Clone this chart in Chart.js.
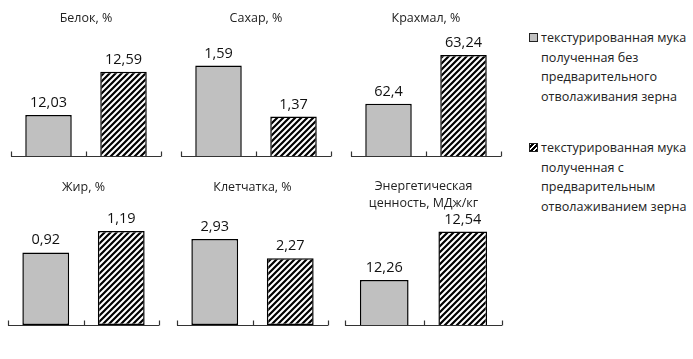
<!DOCTYPE html>
<html>
<head>
<meta charset="utf-8">
<script src="https://cdn.jsdelivr.net/npm/chart.js@4/dist/chart.umd.min.js"></script>
<style>
html,body{margin:0;padding:0;background:#fff;}
#wrap{position:relative;width:693px;height:359px;overflow:hidden;background:#fff;font-family:"Open Sans",sans-serif;}
canvas.panel{position:absolute;}
.legtext{position:absolute;left:541px;width:152px;font-size:12.6px;line-height:19.5px;color:#222;white-space:nowrap;}
.sw{position:absolute;left:529px;width:7px;height:7px;border:1px solid #222;}
#sw1{top:33px;background:#c0c0c0;}
#sw2{top:143px;background:repeating-linear-gradient(-45deg,#000 0 2px,#fff 2px 3.5px);}
</style>
</head>
<body>
<div id="wrap">
  <div class="sw" id="sw1"></div>
  <div class="legtext" id="leg1" style="top:28px"></div>
  <div class="sw" id="sw2"></div>
  <div class="legtext" id="leg2" style="top:138px"></div>
</div>
<script>
// ---- data ----
const categories = ["Белок, %", "Сахар, %", "Крахмал, %", "Жир, %", "Клетчатка, %", "Энергетическая ценность, МДж/кг"];
const titleLines = [["Белок, %"], ["Сахар, %"], ["Крахмал, %"], ["Жир, %"], ["Клетчатка, %"], ["Энергетическая", "ценность, МДж/кг"]];
const seriesNames = [
  ["текстурированная мука", "полученная без", "предварительного", "отволаживания зерна"],
  ["текстурированная мука", "полученная с", "предварительным", "отволаживанием зерна"]
];
const seriesWithout = [12.03, 1.59, 62.4, 0.92, 2.93, 12.26];
const seriesWith = [12.59, 1.37, 63.24, 1.19, 2.27, 12.54];
const axisMin = [11.5, 1.2, 61.5, 0, 0, 12];
const axisMax = [13, 1.7, 63.5, 1.47, 3.95, 12.67];

// ---- layout (chart areas: left, top, right, bottom) ----
const areas = [[11,40,161,156],[181,40,331,156],[351,40,501,156],[8,209,159,325],[177,209,328,325],[345,209,502,325]];
const PAD = {left: 8, right: 8, top: 40, bottom: 14};

document.getElementById('leg1').innerHTML = seriesNames[0].join('<br>');
document.getElementById('leg2').innerHTML = seriesNames[1].join('<br>');

function makeHatch(ctx){
  const c = document.createElement('canvas');
  c.width = 6; c.height = 6;
  const g = c.getContext('2d');
  g.fillStyle = '#fff'; g.fillRect(0,0,6,6);
  g.strokeStyle = '#000'; g.lineWidth = 2.2;
  g.beginPath();
  g.moveTo(-1,7); g.lineTo(7,-1);
  g.moveTo(-4,4); g.lineTo(4,-4);
  g.moveTo(2,10); g.lineTo(10,2);
  g.stroke();
  return ctx.createPattern(c, 'repeat');
}

const fmt = v => String(v).replace('.', ',');

const panelPlugin = {
  id: 'panelDecor',
  afterDatasetsDraw(chart){
    const ctx = chart.ctx;
    const a = chart.chartArea;
    const opts = chart.options.plugins.panelDecor;
    ctx.save();
    ctx.strokeStyle = '#333';
    ctx.lineWidth = 1.2;
    const yb = Math.round(a.bottom) + 0.5;
    ctx.beginPath();
    ctx.moveTo(a.left, yb); ctx.lineTo(a.right, yb);
    const xs = [a.left, (a.left + a.right) / 2, a.right];
    xs.forEach(x => { const xx = Math.round(x) + 0.5; ctx.moveTo(xx, yb); ctx.lineTo(xx, yb - 5); });
    ctx.stroke();
    ctx.fillStyle = '#111';
    ctx.font = '14.5px "Open Sans", sans-serif';
    ctx.textAlign = 'center';
    ctx.textBaseline = 'alphabetic';
    const meta = chart.getDatasetMeta(0);
    meta.data.forEach((bar, i) => {
      ctx.fillText(fmt(chart.data.datasets[0].data[i]), bar.x, bar.y - 8);
    });
    ctx.fillStyle = '#222';
    ctx.font = '12.5px "Open Sans", sans-serif';
    ctx.textBaseline = 'middle';
    const cx = (a.left + a.right) / 2;
    const lines = opts.lines;
    if (lines.length === 1) {
      ctx.fillText(lines[0], cx, a.top - 22);
    } else {
      ctx.fillText(lines[0], cx, a.top - 23);
      ctx.fillText(lines[1], cx, a.top - 6);
    }
    ctx.restore();
  }
};

const wrap = document.getElementById('wrap');
categories.forEach((cat, i) => {
  const ar = areas[i];
  const cv = document.createElement('canvas');
  cv.className = 'panel';
  const w = ar[2] - ar[0] + PAD.left + PAD.right;
  const h = ar[3] - ar[1] + PAD.top + PAD.bottom;
  cv.width = w; cv.height = h;
  cv.style.width = w + 'px'; cv.style.height = h + 'px';
  cv.style.left = (ar[0] - PAD.left) + 'px';
  cv.style.top = (ar[1] - PAD.top) + 'px';
  wrap.appendChild(cv);
  const ctx = cv.getContext('2d');
  new Chart(ctx, {
    type: 'bar',
    data: {
      labels: ['без отволаживания', 'с отволаживанием'],
      datasets: [{
        label: cat,
        data: [seriesWithout[i], seriesWith[i]],
        backgroundColor: ['#c0c0c0', makeHatch(ctx)],
        borderColor: '#000',
        borderWidth: 1.5,
        borderSkipped: false,
        barPercentage: 0.62,
        categoryPercentage: 1.0
      }]
    },
    options: {
      responsive: false,
      animation: false,
      devicePixelRatio: 1,
      layout: {padding: PAD},
      scales: {
        x: {display: false},
        y: {display: false, min: axisMin[i], max: axisMax[i]}
      },
      plugins: {
        legend: {display: false},
        tooltip: {enabled: false},
        title: {display: false},
        panelDecor: {lines: titleLines[i]}
      }
    },
    plugins: [panelPlugin]
  });
});
</script>
</body>
</html>
